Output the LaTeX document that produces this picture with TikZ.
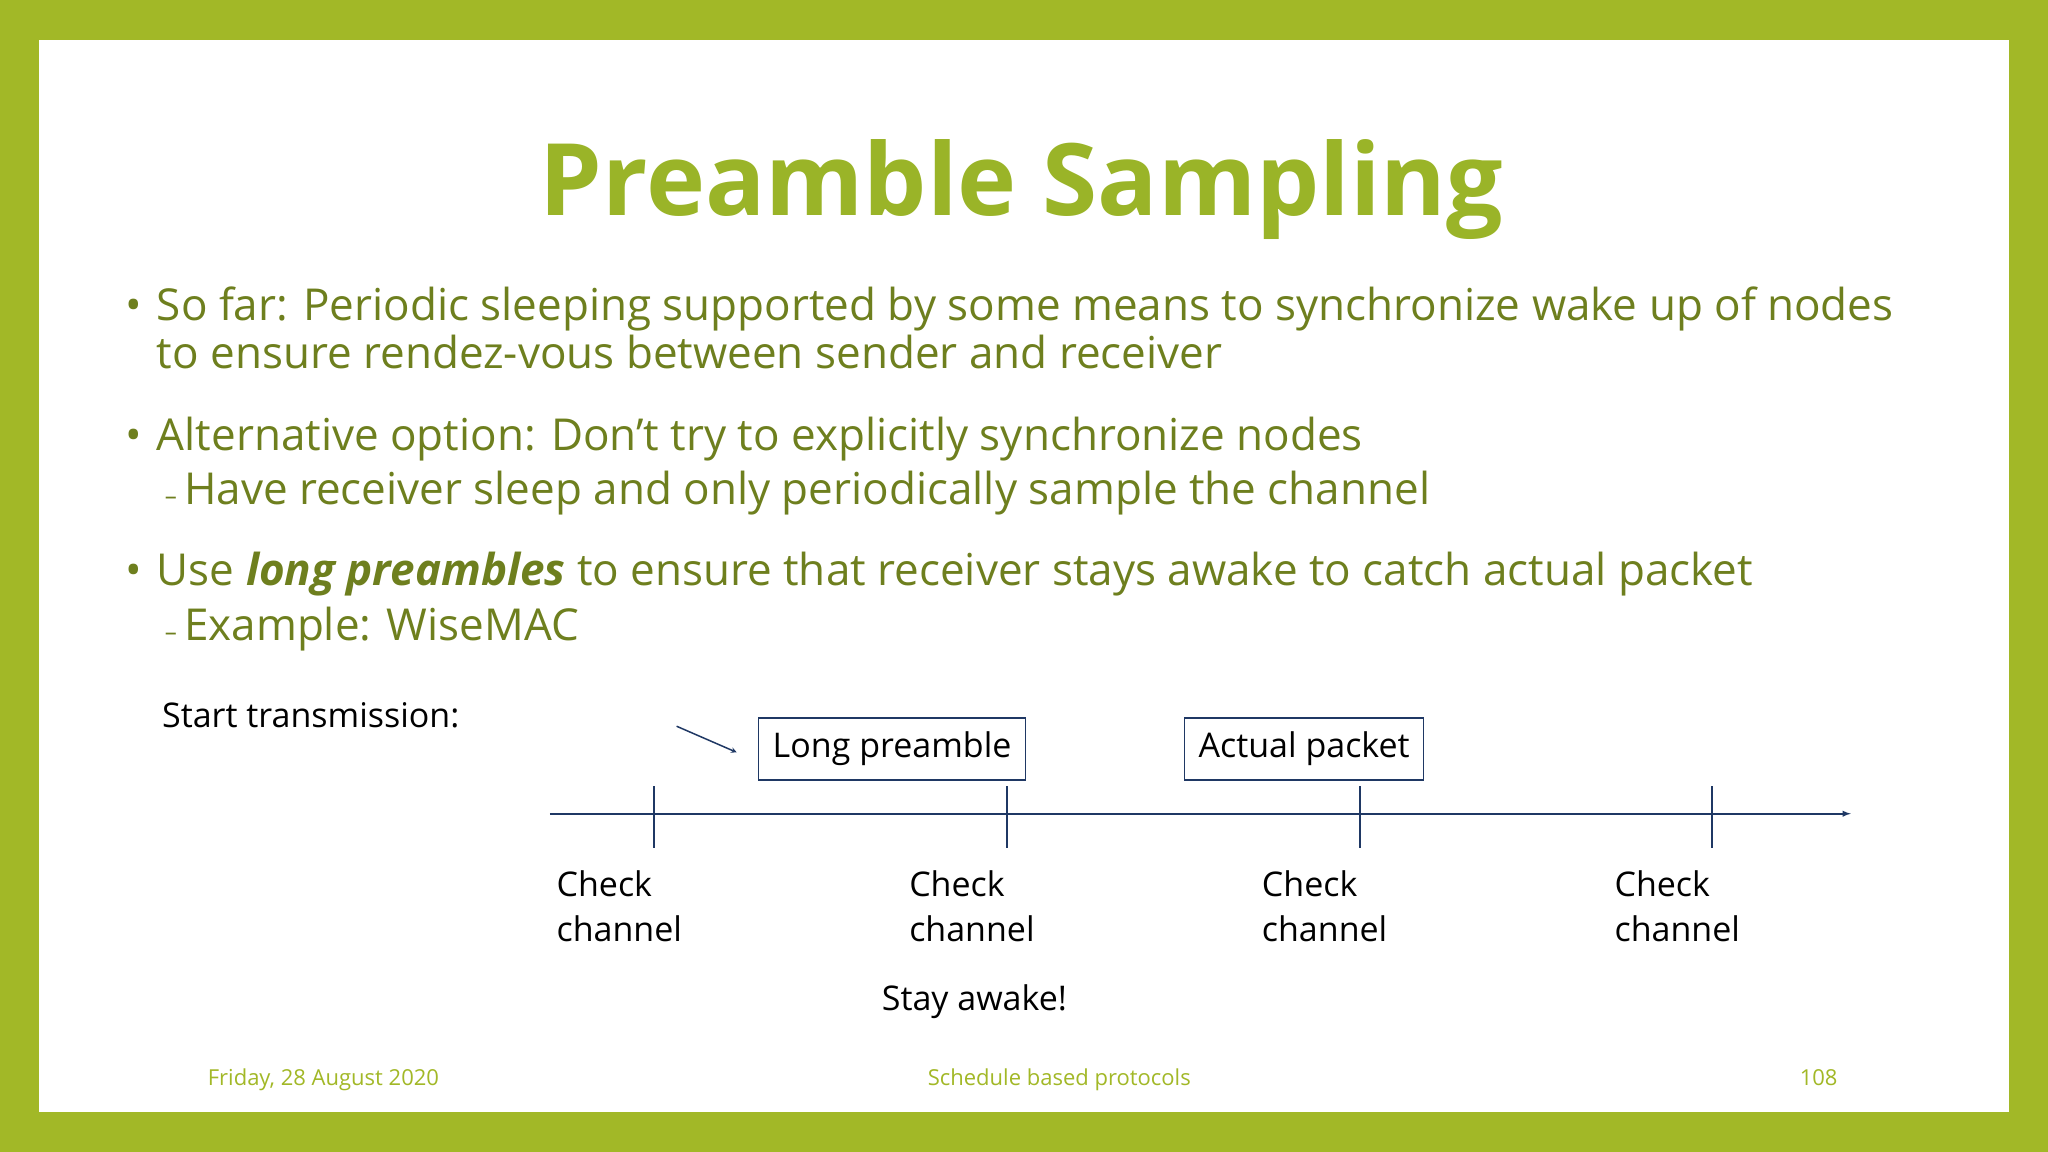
\documentclass[tikz,border=0pt]{standalone}
\usepackage{fontspec}
\setmainfont{Open Sans}
\definecolor{frame}{HTML}{A2B827}
\definecolor{ttl}{HTML}{9AB428}
\definecolor{body}{HTML}{6E7F1E}
\definecolor{navy}{HTML}{1F3864}
\begin{document}
\begin{tikzpicture}[x=1.306pt,y=-1.306pt,
  bl/.style={anchor=base west,inner sep=0pt,text=body,font=\fontsize{44}{50}\selectfont},
  dia/.style={anchor=base west,inner sep=0pt,text=black,font=\fontsize{34}{40}\selectfont},
  foot/.style={anchor=base,inner sep=0pt,text=frame,font=\fontsize{22}{26}\selectfont},
  boxn/.style={draw=navy,line width=1.5pt,minimum height=62pt,inner xsep=14pt,font=\fontsize{34}{40}\selectfont},
  ax/.style={draw=navy,line width=1.8pt}]
\fill[frame] (0,0) rectangle (1568,882);
\fill[white] (30,31) rectangle (1538,851);
\node[anchor=base,inner sep=0pt,text=ttl,font=\fontsize{100}{110}\selectfont\bfseries] (t) at (782,165) {Preamble Sampling};
\node[bl] (b1d) at (96,245) {\textbullet};
\node[bl] (b1) at (120,245) {So far: Periodic sleeping supported by some means to synchronize wake up of nodes};
\node[bl] (b1b) at (120,282) {to ensure rendez-vous between sender and receiver};
\node[bl] (b2d) at (96,345) {\textbullet};
\node[bl] (b2) at (120,345) {Alternative option: Don’t try to explicitly synchronize nodes};
\node[bl] (b2s) at (126,386) {{\fontsize{24}{30}\selectfont –}\,Have receiver sleep and only periodically sample the channel};
\node[bl] (b3d) at (96,448) {\textbullet};
\node[bl] (b3) at (120,448) {Use \textbf{\textit{long preambles}} to ensure that receiver stays awake to catch actual packet};
\node[bl] (b3s) at (126,490) {{\fontsize{24}{30}\selectfont –}\,Example: WiseMAC};
\node[dia] (st) at (124,557) {Start transmission:};
\node[boxn] (lp) at (683,573.5) {Long preamble};
\node[boxn] (ap) at (998.5,573.5) {Actual packet};
\coordinate (a1) at (518,556); \coordinate (a2) at (564,576);
\draw[navy,line width=1.5pt,-stealth] (a1) -- (a2);
\coordinate (x0) at (421,623); \coordinate (x1) at (1417,623);
\draw[ax,-latex] (x0) -- (x1);
\foreach \x/\n in {501/1,771/2,1041/3,1311/4}{
  \coordinate (u\n) at (\x,602); \coordinate (d\n) at (\x,649);
  \draw[ax] (u\n) -- (d\n);
  \node[dia] (c\n) at (\x-75,686) {Check};
  \node[dia] (h\n) at (\x-75,721) {channel};
}
\node[dia] (sa) at (675,774) {Stay awake!};
\node[foot,anchor=base west] (f1) at (159,831) {Friday, 28 August 2020};
\node[foot] (f2) at (811,831) {Schedule based protocols};
\node[foot,anchor=base east] (f3) at (1407,831) {108};
\end{tikzpicture}
\end{document}
